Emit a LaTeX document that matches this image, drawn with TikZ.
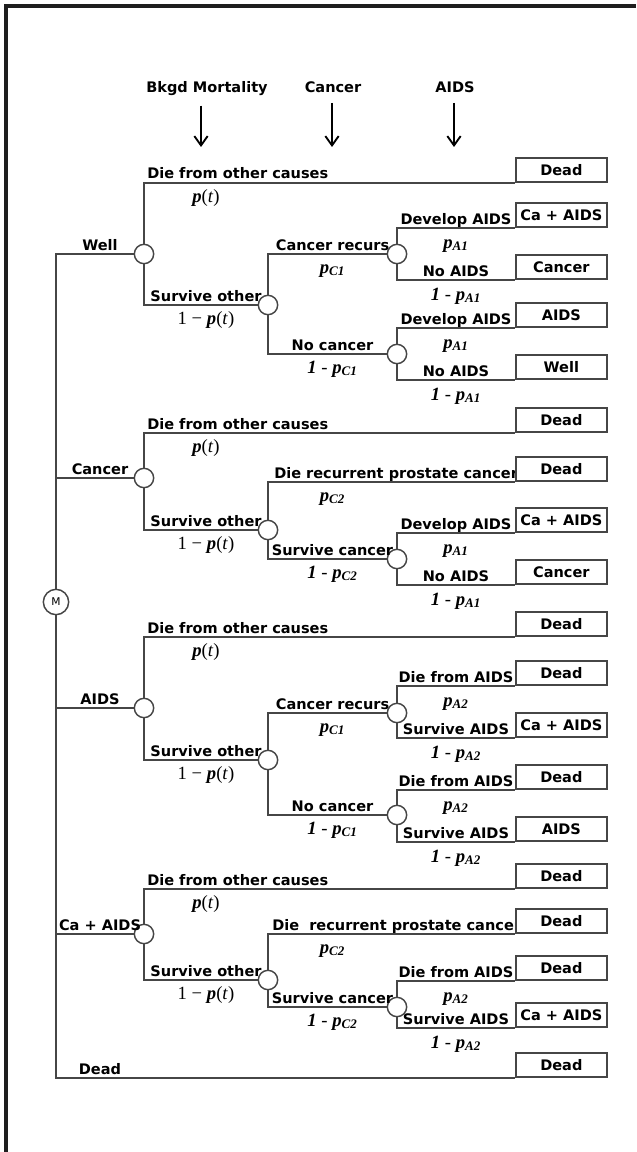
\documentclass[tikz,border=0pt]{standalone}
\usepackage{fontspec}
\setmainfont{DejaVu Sans}
\newfontfamily\probfont{Liberation Serif}
\usepackage{tikz}
\usepackage{xcolor}
\usetikzlibrary{arrows.meta,positioning}
\definecolor{treeline}{RGB}{70,70,70}
\definecolor{framebar}{RGB}{30,30,30}
\newcommand\lblfont{\fontsize{10.9}{13}\selectfont\bfseries}
\newcommand\pv{\textbf{\textit{p}}}
\newcommand\ptm{\pv(\textit{t})}
\newcommand\psb[1]{\pv\textsubscript{\textbf{\textit{#1}}}}
\newcommand\omp[1]{\textbf{\textit{1}} - \psb{#1}}

\tikzset{
  chance/.style={circle,draw=treeline,fill=white,line width=1.1pt,minimum size=14.5pt,inner sep=0pt},
  markov/.style={circle,draw=treeline,fill=white,line width=1.1pt,minimum size=19pt,inner sep=0pt,font=\fontsize{8}{9}\selectfont},
  term/.style={draw=treeline,fill=white,line width=1.3pt,minimum width=68.25pt,minimum height=18pt,inner sep=0pt,anchor=south west,font=\lblfont},
  brlab/.style={anchor=base,font=\lblfont,inner sep=0pt},
  longlab/.style={anchor=base west,font=\lblfont,inner sep=0pt},
  prlab/.style={anchor=base,font=\probfont\fontsize{14}{16}\selectfont,inner sep=0pt},
  tree/.style={draw=treeline,line width=1.3pt},
  hdarrow/.style={-{Straight Barb[length=7pt,width=10pt]},line width=1.4pt,shorten <=7pt},
}

\begin{document}
\begin{tikzpicture}[x=0.75pt,y=-0.75pt]
  \useasboundingbox (0,0) rectangle (636,1152);
  \draw[framebar,line width=2.4pt] (6,1152) -- (6,6) -- (636,6);

  % headings
  \node[brlab] (hbk) at (207,93) {Bkgd Mortality};
  \node[brlab] (hca) at (333,93) {Cancer};
  \node[brlab] (hai) at (455,93) {AIDS};
  \coordinate (abk) at (201,147);
  \coordinate (aca) at (332,147);
  \coordinate (aai) at (454,147);
  \draw[hdarrow] (abk |- hbk.south) -- (abk);
  \draw[hdarrow] (aca |- hca.south) -- (aca);
  \draw[hdarrow] (aai |- hai.south) -- (aai);

  % Markov node and chance nodes
  \node[markov] (M) at (56,602) {M};
  \node[chance] (well)  at (144,254) {};
  \node[chance] (canc)  at (144,478) {};
  \node[chance] (aids)  at (144,708) {};
  \node[chance] (caids) at (144,934) {};
  \node[chance] (wlS) at (268,305) {};
  \node[chance] (caS) at (268,530) {};
  \node[chance] (aiS) at (268,760) {};
  \node[chance] (cxS) at (268,980) {};
  \node[chance] (wlR) at (397,254) {};
  \node[chance] (wlN) at (397,354) {};
  \node[chance] (caC) at (397,559) {};
  \node[chance] (aiR) at (397,713) {};
  \node[chance] (aiN) at (397,815) {};
  \node[chance] (cxC) at (397,1007) {};

  % states
  \node[brlab] (lwell)  at (100,250)  {Well};
  \node[brlab] (lcanc)  at (100,474)  {Cancer};
  \node[brlab] (laids)  at (100,704)  {AIDS};
  \node[brlab] (lcaids) at (100,930)  {Ca + AIDS};
  \node[brlab] (ldead)  at (100,1074) {Dead};

  % background mortality
  \node[longlab] (o1) at (147,179) {Die from other causes};
  \node[longlab] (o2) at (147,429) {Die from other causes};
  \node[longlab] (o3) at (147,633) {Die from other causes};
  \node[longlab] (o4) at (147,885) {Die from other causes};
  \node[prlab] (q1) at (206,202) {\ptm};
  \node[prlab] (q2) at (206,452) {\ptm};
  \node[prlab] (q3) at (206,656) {\ptm};
  \node[prlab] (q4) at (206,908) {\ptm};
  \node[brlab] (s1) at (206,301) {Survive other};
  \node[brlab] (s2) at (206,526) {Survive other};
  \node[brlab] (s3) at (206,756) {Survive other};
  \node[brlab] (s4) at (206,976) {Survive other};
  \node[prlab] (r1) at (206,324) {1 − \ptm};
  \node[prlab] (r2) at (206,549) {1 − \ptm};
  \node[prlab] (r3) at (206,779) {1 − \ptm};
  \node[prlab] (r4) at (206,999) {1 − \ptm};

  % cancer
  \node[brlab] (c1)  at (332.5,250) {Cancer recurs};
  \node[prlab] (pc1) at (332.5,273) {\psb{C1}};
  \node[brlab] (c2)  at (332.5,350) {No cancer};
  \node[prlab] (pc2) at (332.5,373) {\omp{C1}};
  \node[longlab] (c3) at (274,478) {Die recurrent prostate cancer};
  \node[prlab] (pc3) at (332.5,501) {\psb{C2}};
  \node[brlab] (c4)  at (332.5,555) {Survive cancer};
  \node[prlab] (pc4) at (332.5,578) {\omp{C2}};
  \node[brlab] (c5)  at (332.5,709) {Cancer recurs};
  \node[prlab] (pc5) at (332.5,732) {\psb{C1}};
  \node[brlab] (c6)  at (332.5,811) {No cancer};
  \node[prlab] (pc6) at (332.5,834) {\omp{C1}};
  \node[longlab] (c7) at (272,930) {Die\ \ recurrent prostate cancer};
  \node[prlab] (pc7) at (332.5,953) {\psb{C2}};
  \node[brlab] (c8)  at (332.5,1003) {Survive cancer};
  \node[prlab] (pc8) at (332.5,1026) {\omp{C2}};

  % AIDS
  \node[brlab] (a1)  at (456,224) {Develop AIDS};
  \node[prlab] (pa1) at (456,248) {\psb{A1}};
  \node[brlab] (a2)  at (456,276) {No AIDS};
  \node[prlab] (pa2) at (456,300) {\omp{A1}};
  \node[brlab] (a3)  at (456,324) {Develop AIDS};
  \node[prlab] (pa3) at (456,348) {\psb{A1}};
  \node[brlab] (a4)  at (456,376) {No AIDS};
  \node[prlab] (pa4) at (456,400) {\omp{A1}};
  \node[brlab] (a5)  at (456,529) {Develop AIDS};
  \node[prlab] (pa5) at (456,553) {\psb{A1}};
  \node[brlab] (a6)  at (456,581) {No AIDS};
  \node[prlab] (pa6) at (456,605) {\omp{A1}};
  \node[brlab] (a7)  at (456,682) {Die from AIDS};
  \node[prlab] (pa7) at (456,706) {\psb{A2}};
  \node[brlab] (a8)  at (456,734) {Survive AIDS};
  \node[prlab] (pa8) at (456,758) {\omp{A2}};
  \node[brlab] (a9)  at (456,786) {Die from AIDS};
  \node[prlab] (pa9) at (456,810) {\psb{A2}};
  \node[brlab] (a10) at (456,838) {Survive AIDS};
  \node[prlab] (pa10) at (456,862) {\omp{A2}};
  \node[brlab] (a11) at (456,977) {Die from AIDS};
  \node[prlab] (pa11) at (456,1001) {\psb{A2}};
  \node[brlab] (a12) at (456,1024) {Survive AIDS};
  \node[prlab] (pa12) at (456,1048) {\omp{A2}};

  % terminal states
  \node[term] (t1)  at (515,183)  {Dead};
  \node[term] (t2)  at (515,228)  {Ca + AIDS};
  \node[term] (t3)  at (515,280)  {Cancer};
  \node[term] (t4)  at (515,328)  {AIDS};
  \node[term] (t5)  at (515,380)  {Well};
  \node[term] (t6)  at (515,433)  {Dead};
  \node[term] (t7)  at (515,482)  {Dead};
  \node[term] (t8)  at (515,533)  {Ca + AIDS};
  \node[term] (t9)  at (515,585)  {Cancer};
  \node[term] (t10) at (515,637)  {Dead};
  \node[term] (t11) at (515,686)  {Dead};
  \node[term] (t12) at (515,738)  {Ca + AIDS};
  \node[term] (t13) at (515,790)  {Dead};
  \node[term] (t14) at (515,842)  {AIDS};
  \node[term] (t15) at (515,889)  {Dead};
  \node[term] (t16) at (515,934)  {Dead};
  \node[term] (t17) at (515,981)  {Dead};
  \node[term] (t18) at (515,1028) {Ca + AIDS};
  \node[term] (t19) at (515,1078) {Dead};

  % branches
  \draw[tree] (M.north) |- (well.west);
  \draw[tree] (M.north) |- (canc.west);
  \draw[tree] (M.south) |- (aids.west);
  \draw[tree] (M.south) |- (caids.west);
  \draw[tree] (M.south) |- (t19.south west);

  \draw[tree] (well.north) |- (t1.south west);
  \draw[tree] (well.south) |- (wlS.west);
  \draw[tree] (wlS.north) |- (wlR.west);
  \draw[tree] (wlS.south) |- (wlN.west);
  \draw[tree] (wlR.north) |- (t2.south west);
  \draw[tree] (wlR.south) |- (t3.south west);
  \draw[tree] (wlN.north) |- (t4.south west);
  \draw[tree] (wlN.south) |- (t5.south west);

  \draw[tree] (canc.north) |- (t6.south west);
  \draw[tree] (canc.south) |- (caS.west);
  \draw[tree] (caS.north) |- (t7.south west);
  \draw[tree] (caS.south) |- (caC.west);
  \draw[tree] (caC.north) |- (t8.south west);
  \draw[tree] (caC.south) |- (t9.south west);

  \draw[tree] (aids.north) |- (t10.south west);
  \draw[tree] (aids.south) |- (aiS.west);
  \draw[tree] (aiS.north) |- (aiR.west);
  \draw[tree] (aiS.south) |- (aiN.west);
  \draw[tree] (aiR.north) |- (t11.south west);
  \draw[tree] (aiR.south) |- (t12.south west);
  \draw[tree] (aiN.north) |- (t13.south west);
  \draw[tree] (aiN.south) |- (t14.south west);

  \draw[tree] (caids.north) |- (t15.south west);
  \draw[tree] (caids.south) |- (cxS.west);
  \draw[tree] (cxS.north) |- (t16.south west);
  \draw[tree] (cxS.south) |- (cxC.west);
  \draw[tree] (cxC.north) |- (t17.south west);
  \draw[tree] (cxC.south) |- (t18.south west);
\end{tikzpicture}
\end{document}
